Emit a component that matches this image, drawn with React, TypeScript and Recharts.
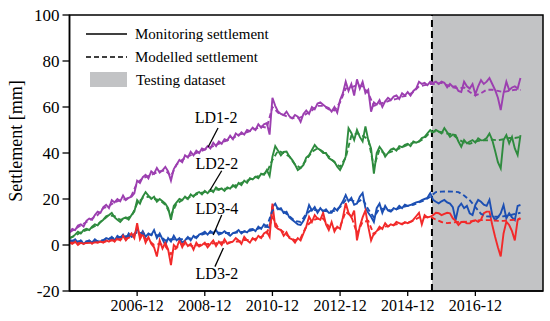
import {
  Line,
  LineChart,
  ReferenceArea,
  ReferenceDot,
  ReferenceLine,
  XAxis,
  YAxis,
} from "recharts";

const FONT = '"Liberation Serif", "Times New Roman", serif';

// x values are months counted from 2004-12
const xTicks = [24, 48, 72, 96, 120, 144];
const xTickLabels = ["2006-12", "2008-12", "2010-12", "2012-12", "2014-12", "2016-12"];
const yTicks = [-20, 0, 20, 40, 60, 80, 100];
const monthEnd = 168;
const testStart = 128.6; // ~2015-08, start of the testing dataset

// monitoring settlement, one value per month starting at month 0
const ld12Monitor = [
  5.5, 7, 6.5, 8.5, 9, 8, 10.5, 11.5, 11, 13, 14.5, 14,
  16.5, 17.5, 16, 19.5, 18.5, 20, 19, 21.5, 19.5, 20.5, 21, 22.5,
  28, 27, 29.5, 30.5, 29, 32, 31, 33.5, 31.5, 32.5, 34, 32,
  28, 33, 35, 37, 36, 39, 38, 40.5, 39, 41, 40, 42,
  41.5, 43, 42, 44.5, 43, 45, 44, 46, 45.5, 47.5, 46, 48.5,
  47.5, 49, 48, 50, 49.5, 51, 50, 52.5, 51, 52.5, 53, 48,
  64, 60.5, 58, 57, 56.5, 58, 56, 55, 56.5, 55.8, 53.5, 57,
  58.5, 57, 60, 59, 61.5, 62, 61, 60, 59.5, 58, 60, 57.5,
  63, 66, 71, 67, 70, 65, 72, 68, 71, 66, 67.5, 58,
  62, 61, 63, 60, 62.5, 64, 63, 64.5, 65, 63.5, 66, 65,
  66.5, 65, 67, 68, 71, 70, 70.5, 69.5, 71, 70.5, 71, 70,
  71, 70.5, 68.5, 70, 68.8, 69, 67, 66.5, 71, 69, 68, 70,
  65.5, 69, 71.7, 70, 71, 72.6, 70, 67.4, 64, 58.7, 66, 71,
  67.4, 68.5, 69, 68, 72.6,
];
const ld22Monitor = [
  3, 3.5, 4.5, 5.8, 5, 6.5, 7, 6.5, 8, 9, 8.5, 10,
  11, 12.5, 13, 14, 12, 11, 10, 11.5, 12, 11, 13, 14.5,
  19.5, 18, 21, 23, 21.5, 20, 21, 18.8, 20, 19, 18, 16,
  11, 17, 18.5, 20, 19.5, 21, 20, 22, 21, 22.5, 23, 22,
  23.5, 22.5, 24, 23, 25, 24, 24.6, 23.5, 25, 24.5, 26, 25,
  27, 26, 28, 27, 29, 28.5, 29.7, 29, 31, 30.5, 32.6, 30,
  38.4, 43, 41, 39, 40.5, 40.6, 38.5, 37, 35, 32.6, 33.5, 34.8,
  38, 39, 41.3, 43.5, 42, 41.3, 40, 40, 37.8, 37, 36.2, 34,
  32.6, 35, 38.5, 50.8, 48.7, 45.6, 50, 47, 45, 51.5, 45.6, 42,
  31, 40, 42.7, 41, 38.4, 40, 41.5, 42, 41, 43, 42.5, 43.5,
  44, 43, 45, 44.5, 45, 46.5, 47, 48.5, 50, 49, 50, 49.3,
  48.5, 50.8, 49, 47, 48, 47.8, 45, 42.7, 45.6, 44.2, 45, 45.6,
  44.5, 46.4, 45.5, 45.6, 46.5, 48.5, 45.6, 41, 36, 33.3, 45.6, 47.8,
  44.2, 47, 42, 39.1, 47.8,
];
const ld34Monitor = [
  2, 1.5, 2.5, 1, 2, 0.5, 1.5, 2, 1, 2.5, 1.5, 1.5,
  2, 3, 2.5, 3.5, 2, 4, 3, 4.5, 2.5, 5, 3.5, 4,
  7.5, 4, 6, 3.5, 5, 4.3, 6.5, 3, 5, 2.5, 0, 3,
  1.5, 4, 2, 3, 1, 2, 3.5, 2, 4, 3, 4.5, 5,
  5.8, 4.5, 6, 5, 6.5, 4.5, 5, 6, 5, 4, 5.2, 5.5,
  6.5, 5, 6, 5.5, 6.8, 7, 6, 8, 7, 9, 8, 7.5,
  16.6, 18, 15.5, 16, 13.9, 14.5, 12, 11, 10, 9, 8.7, 10.5,
  13, 17.4, 15, 16.5, 14, 16, 14.5, 15.5, 14, 14, 16, 15,
  17, 19, 21.7, 19, 20.5, 17.5, 18, 21, 22.6, 16, 14, 12.3,
  10, 16, 18, 14, 17, 15, 14.5, 16, 15.5, 17, 16, 17.5,
  17, 17.4, 18, 18.5, 18.8, 19.5, 20, 20.5, 22.6, 19.6, 18.8, 18.1,
  19, 19.6, 18.5, 18, 16.5, 10.8, 16.5, 18, 16, 17, 13.8, 13,
  17.4, 19.6, 18.8, 17.5, 17, 19.6, 13, 10.8, 12, 13.8, 17.4, 11.6,
  13.8, 12, 10.8, 17, 17.4,
];
const ld32Monitor = [
  1, 0.5, 1.5, 0, 1, 0.5, 1, 1.5, 0.5, 1.5, 1, 1.5,
  1, 2, 1.5, 2.5, 1.5, 3, 2, 4, 2, 3.5, 5, 3,
  9.5, 2.5, 5, 1, 3.5, 0.5, -1, -5, 2, -1.5, 1, -2,
  -8.7, 0, -1.3, 2, -1, 1.5, -0.5, 0.5, -2, 1, -0.7, 0,
  1, -1, 0.5, 2, -0.5, 1.5, 0, 2.5, 0.5, 1, 1.5, 3,
  2, 0.5, 3.5, 2, 1, 3, 2, 4, 3, 5, 5.8, 3.5,
  18, 8, 7, 6.5, 4, 5.5, 3, 2.5, 1, 3, 2, 5,
  8, 12.3, 10, 13, 11.5, 11, 14, 9, 6.5, 10, 5.8, 8,
  7, 12, 18.2, 14, 12, 15, 2, 8, 12, 15, 8, 2,
  5, 6, 8, 7, 9.5, 8, 9, 8.5, 10, 9.5, 9, 10,
  9.5, 10, 11, 12.5, 14, 9, 13, 12, 12.3, 13, 14, 13.8,
  13, 13.5, 14, 13.8, 11.6, 10.5, 8.7, 10, 10.1, 9.4, 9.4, 10.5,
  10.8, 10.1, 11, 13.8, 14.5, 14.5, 8.7, 3.6, -1, -5, 5, 10.1,
  8.7, 6, 2, 10.8, 11.6,
];

// modelled settlement, one value every 2 months starting at month 0
const ld12Model = [
  5.5, 7, 8.5, 10, 11.5, 13, 16, 17, 18.5, 19.5, 20, 21.5,
  27, 29, 30, 31, 32, 32.5, 30, 35, 37, 38.5, 39.5, 40.5,
  41.5, 42.5, 43.5, 44.5, 45.5, 46.5, 48, 48.5, 49.5, 50.5, 51.5, 51,
  60, 57.5, 56.5, 55.5, 55, 55.5, 57, 58.5, 60.5, 60.5, 59, 58.5,
  62, 68, 68.5, 69.5, 69, 66, 60.5, 61.5, 62, 63, 63.5, 64.5,
  65, 66.5, 69, 69.5, 70, 70, 70.5, 69.5, 68.5, 68, 68.5, 66.5,
  65, 66, 67.5, 67.5, 67, 66.5, 67, 67.5, 67.4,
];
const ld22Model = [
  3, 4, 5.5, 6.5, 7.5, 9, 11, 13, 12.5, 11, 11.5, 12.5,
  18, 20.5, 21, 20, 19.5, 17.5, 13, 18, 19.5, 20.5, 21.5, 22.5,
  23, 23.5, 24, 24.5, 24.5, 25.5, 26.5, 27.5, 28.5, 29.5, 30.5, 31.5,
  37, 41, 40, 38.5, 35, 33.5, 37, 40.5, 42, 40.5, 38.5, 36,
  34, 38, 47.5, 48.5, 47.5, 46, 34, 41.5, 39.5, 40.5, 41.5, 42.5,
  43.5, 44.5, 45, 46.5, 49, 49.5, 49, 48.5, 48, 46, 44.5, 44,
  45, 45.5, 45.5, 45.8, 45.5, 46, 46.5, 46.5, 47,
];
const ld34Model = [
  2, 1.8, 1.5, 1.5, 1.5, 1.8, 2.2, 2.8, 3, 3.5, 3.8, 4,
  5.5, 5, 4.5, 4.5, 4, 2, 2.5, 2.5, 2.5, 2.8, 3.2, 4,
  5, 5.3, 5.5, 5.2, 5.2, 5.2, 5.6, 5.8, 6.2, 6.8, 7.5, 8,
  15, 16, 14.5, 12.5, 10.5, 10, 13.5, 15.5, 15, 15, 14.5, 14.8,
  16.5, 19.5, 19.5, 18.5, 20, 15.5, 12, 16, 15.5, 15, 15.5, 16.5,
  17, 17.5, 18.5, 19.5, 21, 23, 23.2, 23.3, 23.2, 23, 21.5, 19.5,
  16.5, 13.5, 12.5, 12.3, 12.3, 12.5, 12.8, 13.5, 14,
];
const ld32Model = [
  1, 1, 0.8, 0.8, 1, 1.2, 1.3, 1.8, 2, 2.5, 2.8, 3.5,
  6, 3.5, 2, 0, 0.5, -0.5, -4, -1, 0.5, 0, -0.5, 0,
  0.3, 0.5, 0.8, 1.2, 1, 1.5, 1.5, 2.2, 2.2, 2.8, 3.5, 5,
  12, 7.5, 5.5, 3.5, 2, 3, 8, 10.5, 11.5, 11.5, 8, 7,
  8, 14.5, 12.5, 5, 10, 10.5, 4.5, 7, 8, 8.5, 9, 9.3,
  9.8, 10.5, 12, 12, 12.3, 11, 10, 9.5, 9.8, 10, 10, 10.2,
  10.5, 10.8, 10.8, 10.8, 10.5, 10.5, 10.8, 11, 11.5,
];

const toPoints = (vals: number[], step: number) =>
  vals.map((v, i) => ({ t: i * step, v }));

const series = [
  { name: "LD1-2", color: "#9c3fb0", monitor: ld12Monitor, model: ld12Model },
  { name: "LD2-2", color: "#2e8b3e", monitor: ld22Monitor, model: ld22Model },
  { name: "LD3-4", color: "#1c4fb3", monitor: ld34Monitor, model: ld34Model },
  { name: "LD3-2", color: "#f22a2a", monitor: ld32Monitor, model: ld32Model },
];

// label text anchor and leader line end points, in chart units
const seriesLabels = [
  { name: "LD1-2", at: [52, 55.7], from: [52.7, 50.9], to: [49.2, 42.6] },
  { name: "LD2-2", at: [52.3, 35.7], from: [54, 32.3], to: [49.9, 23.9] },
  { name: "LD3-4", at: [52.3, 16.1], from: [54, 13], to: [51, 4.3] },
  { name: "LD3-2", at: [52.3, -12.2], from: [54.6, -1.3], to: [51.6, -9.4] },
];

const tickStyle = { fill: "#000", fontFamily: FONT };

export default function App() {
  return (
    <div style={{ position: "absolute", left: 0, top: 0, width: 550, height: 321, background: "#fff" }}>
      <LineChart width={550} height={321} margin={{ top: 15, right: 7, bottom: 0, left: 0 }}>
        <XAxis
          type="number"
          dataKey="t"
          domain={[0, monthEnd]}
          ticks={xTicks}
          tickFormatter={(t) => xTickLabels[xTicks.indexOf(t)]}
          height={30}
          tick={{ ...tickStyle, fontSize: 16 }}
          tickSize={5}
          tickMargin={4}
          axisLine={{ stroke: "#000", strokeWidth: 1.5 }}
          tickLine={{ stroke: "#000", strokeWidth: 1.3 }}
          allowDataOverflow
        />
        <YAxis
          type="number"
          domain={[-20, 100]}
          ticks={yTicks}
          width={69.5}
          tick={{ ...tickStyle, fontSize: 17 }}
          tickSize={7}
          tickMargin={3}
          axisLine={{ stroke: "#000", strokeWidth: 1.5 }}
          tickLine={{ stroke: "#000", strokeWidth: 1.3 }}
          allowDataOverflow
        />
        <ReferenceArea
          x1={testStart}
          x2={monthEnd}
          y1={-20}
          y2={100}
          fill="#c2c3c5"
          fillOpacity={1}
          stroke="none"
        />
        <ReferenceLine x={testStart} stroke="#000" strokeWidth={2} strokeDasharray="7 4" />
        <ReferenceArea
          x1={0}
          x2={monthEnd}
          y1={-20}
          y2={100}
          fill="none"
          stroke="#000"
          strokeWidth={1.5}
        />

        {series.map((s) => (
          <Line
            key={s.name + "-mon"}
            data={toPoints(s.monitor, 1)}
            dataKey="v"
            type="linear"
            stroke={s.color}
            strokeWidth={1.9}
            dot={false}
            isAnimationActive={false}
          />
        ))}
        {series.map((s) => (
          <Line
            key={s.name + "-mod"}
            data={toPoints(s.model, 2)}
            dataKey="v"
            type="linear"
            stroke={s.color}
            strokeWidth={1.9}
            strokeDasharray="5 3"
            dot={false}
            isAnimationActive={false}
          />
        ))}

        {seriesLabels.map((l) => (
          <ReferenceLine
            key={l.name + "-lead"}
            segment={[
              { x: l.from[0], y: l.from[1] },
              { x: l.to[0], y: l.to[1] },
            ]}
            stroke="#000"
            strokeWidth={1.3}
          />
        ))}
        {seriesLabels.map((l) => (
          <ReferenceDot
            key={l.name + "-text"}
            x={l.at[0]}
            y={l.at[1]}
            r={0}
            fill="none"
            stroke="none"
            label={{
              value: l.name,
              position: "center",
              fill: "#000",
              fontSize: 16,
              fontFamily: FONT,
            }}
          />
        ))}
      </LineChart>

      <svg
        width={550}
        height={321}
        style={{ position: "absolute", left: 0, top: 0, pointerEvents: "none" }}
        fontFamily={FONT}
      >
        <text
          x={16}
          y={141}
          fontSize={18}
          textAnchor="middle"
          dominantBaseline="central"
          transform="rotate(-90 16 141)"
        >
          Settlement [mm]
        </text>
        <line x1={86} y1={34} x2={127} y2={34} stroke="#000" strokeWidth={1.6} />
        <text x={135} y={33.5} fontSize={15} dominantBaseline="central">
          Monitoring settlement
        </text>
        <line x1={86} y1={57} x2={127} y2={57} stroke="#000" strokeWidth={1.6} strokeDasharray="5 3" />
        <text x={135} y={56.5} fontSize={15} dominantBaseline="central">
          Modelled settlement
        </text>
        <rect x={90} y={72} width={37} height={15} fill="#c2c3c5" />
        <text x={136} y={80} fontSize={15} dominantBaseline="central">
          Testing dataset
        </text>
      </svg>
    </div>
  );
}
